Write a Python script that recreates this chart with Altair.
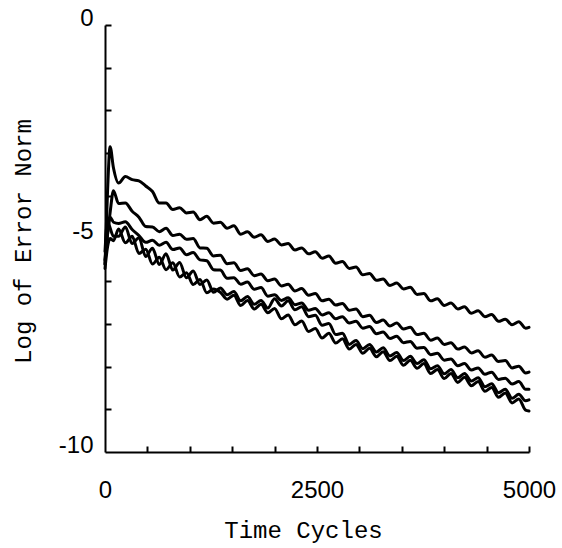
import altair as alt
import pandas as pd

# Time cycles at which the curves were read
X = [0, 30, 60, 100, 160, 240, 320, 400,
     480, 560, 640, 720, 800, 880, 960, 1040,
     1120, 1200, 1280, 1360, 1440, 1520, 1600, 1680,
     1760, 1840, 1920, 2000, 2080, 2160, 2240, 2320,
     2400, 2480, 2560, 2640, 2720, 2800, 2880, 2960,
     3040, 3120, 3200, 3280, 3360, 3440, 3520, 3600,
     3680, 3760, 3840, 3920, 4000, 4080, 4160, 4240,
     4320, 4400, 4480, 4560, 4640, 4720, 4800, 4880,
     4960, 5000]

L1 = [-5.60, -3.90, -2.85, -3.35, -3.70, -3.55, -3.62, -3.65,
      -3.77, -3.90, -4.17, -4.17, -4.32, -4.28, -4.40, -4.38,
      -4.56, -4.48, -4.64, -4.62, -4.76, -4.70, -4.90, -4.84,
      -4.97, -4.91, -5.07, -5.01, -5.15, -5.12, -5.27, -5.22,
      -5.36, -5.31, -5.46, -5.41, -5.58, -5.54, -5.70, -5.67,
      -5.85, -5.82, -5.98, -5.95, -6.10, -6.04, -6.18, -6.14,
      -6.31, -6.29, -6.46, -6.41, -6.57, -6.51, -6.65, -6.60,
      -6.75, -6.69, -6.83, -6.78, -6.94, -6.89, -7.02, -6.95,
      -7.10, -7.08]

L2 = [-5.50, -4.90, -4.40, -3.88, -4.18, -4.17, -4.36, -4.50,
      -4.72, -4.73, -4.84, -4.76, -4.93, -4.90, -5.02, -5.00,
      -5.22, -5.23, -5.41, -5.39, -5.59, -5.57, -5.75, -5.71,
      -5.87, -5.83, -5.99, -5.95, -6.11, -6.07, -6.23, -6.17,
      -6.33, -6.29, -6.46, -6.42, -6.56, -6.52, -6.68, -6.65,
      -6.83, -6.80, -6.97, -6.91, -7.05, -6.98, -7.12, -7.08,
      -7.25, -7.22, -7.38, -7.33, -7.48, -7.44, -7.59, -7.54,
      -7.68, -7.63, -7.78, -7.73, -7.88, -7.86, -8.03, -7.99,
      -8.15, -8.13]

L3 = [-5.60, -4.90, -4.50, -4.62, -4.65, -4.61, -4.79, -4.93,
      -5.09, -5.04, -5.16, -5.09, -5.26, -5.22, -5.38, -5.33,
      -5.50, -5.52, -5.73, -5.74, -5.93, -5.92, -6.07, -6.02,
      -6.19, -6.15, -6.35, -6.32, -6.45, -6.39, -6.55, -6.51,
      -6.68, -6.64, -6.79, -6.74, -6.88, -6.83, -6.98, -6.94,
      -7.10, -7.06, -7.23, -7.19, -7.34, -7.29, -7.44, -7.41,
      -7.57, -7.55, -7.72, -7.69, -7.85, -7.82, -7.98, -7.93,
      -8.08, -8.03, -8.18, -8.13, -8.30, -8.27, -8.41, -8.35,
      -8.53, -8.53]

L4 = [-5.30, -4.60, -4.75, -4.95, -4.95, -4.73, -5.12, -4.98,
      -5.42, -5.23, -5.61, -5.36, -5.74, -5.56, -5.92, -5.76,
      -6.08, -5.97, -6.26, -6.16, -6.32, -6.24, -6.46, -6.36,
      -6.54, -6.45, -6.63, -6.41, -6.58, -6.46, -6.67, -6.60,
      -6.83, -6.80, -7.03, -6.99, -7.25, -7.22, -7.48, -7.39,
      -7.58, -7.48, -7.66, -7.56, -7.75, -7.67, -7.86, -7.76,
      -7.93, -7.84, -8.05, -7.98, -8.17, -8.07, -8.26, -8.16,
      -8.34, -8.26, -8.47, -8.40, -8.61, -8.53, -8.74, -8.65,
      -8.80, -8.78]

L5 = [-5.70, -5.20, -5.00, -5.05, -4.78, -5.10, -4.95, -5.35,
      -5.25, -5.60, -5.44, -5.73, -5.57, -5.90, -5.80, -6.08,
      -5.96, -6.27, -6.18, -6.26, -6.42, -6.33, -6.57, -6.45,
      -6.65, -6.54, -6.74, -6.64, -6.88, -6.79, -7.02, -6.93,
      -7.18, -7.11, -7.33, -7.22, -7.45, -7.35, -7.59, -7.48,
      -7.69, -7.57, -7.77, -7.65, -7.86, -7.76, -7.97, -7.85,
      -8.04, -7.93, -8.16, -8.07, -8.28, -8.16, -8.37, -8.25,
      -8.45, -8.35, -8.58, -8.49, -8.72, -8.62, -8.85, -8.76,
      -9.02, -9.04]

RUNS = ["r1", "r2", "r3", "r4", "r5"]
X_LABEL_VALUES = [0, 2500, 5000]
X_TICK_VALUES = [500, 1000, 1500, 2000, 2500, 3000, 3500, 4000, 4500, 5000]
Y_LABEL_VALUES = [0, -5, -10]
Y_TICK_VALUES = [0, -1, -2, -3, -4, -5, -6, -7, -8, -9]

rows = []
for name, series in zip(RUNS, [L1, L2, L3, L4, L5]):
    assert len(series) == len(X), (name, len(series))
    for xv, yv in zip(X, series):
        rows.append({"cycles": xv, "logerr": yv, "run": name})
df = pd.DataFrame(rows)

MONO = "Liberation Mono"
SANS = "Liberation Sans"
W, H = 424, 427

xscale = alt.Scale(domain=[0, 5000], nice=False, zero=False)
yscale = alt.Scale(domain=[-10, 0], nice=False, zero=False)

lines = alt.Chart(df).mark_line(
    color="black", strokeWidth=3, strokeJoin="round", strokeCap="round",
    interpolate="monotone"
).encode(
    x=alt.X("cycles:Q", scale=xscale, axis=alt.Axis(
        orient="bottom", values=X_LABEL_VALUES, format="d", ticks=False, grid=False,
        domainColor="black", domainWidth=2,
        labelFont=SANS, labelFontSize=24, labelColor="black", labelPadding=26,
        labelFlush=False, labelOverlap=False,
        title="Time Cycles", titleFont=MONO, titleFontSize=24,
        titleFontWeight="normal", titleColor="black",
        titleX=198, titleY=85, titleBaseline="alphabetic", titleAlign="center")),
    y=alt.Y("logerr:Q", scale=yscale, axis=alt.Axis(
        orient="left", values=Y_LABEL_VALUES, ticks=False, grid=False,
        domainColor="black", domainWidth=2,
        labelFont=SANS, labelFontSize=24, labelColor="black", labelPadding=12,
        labelOffset=-7, labelOverlap=False,
        labelExpr="datum.value < 0 ? '-' + abs(datum.value) : '' + datum.value",
        title="Log of Error Norm", titleFont=MONO, titleFontSize=24,
        titleFontWeight="normal", titleColor="black",
        titleX=-70, titleY=216, titleAngle=270, titleAlign="center",
        titleBaseline="bottom")),
    detail="run:N",
)

tick_layer = alt.Chart(df).mark_line(opacity=0).encode(
    x=alt.X("cycles:Q", scale=xscale, axis=alt.Axis(
        orient="top", offset=-H, values=X_TICK_VALUES, labels=False,
        domain=False, grid=False, ticks=True, tickSize=6, tickWidth=2,
        tickColor="black", title="")),
    y=alt.Y("logerr:Q", scale=yscale, axis=alt.Axis(
        orient="right", offset=-W, values=Y_TICK_VALUES, labels=False,
        domain=False, grid=False, ticks=True, tickSize=6, tickWidth=2,
        tickColor="black", title="")),
    detail="run:N",
)

chart = alt.layer(lines, tick_layer).resolve_axis(
    x="independent", y="independent"
).properties(
    width=W, height=H,
    padding={"left": 105, "top": 25, "right": 33, "bottom": 96},
    autosize=alt.AutoSizeParams(type="none"),
    background="white",
).configure_view(stroke=None)

chart.save("out.html", embed_options={"renderer": "svg", "actions": False})
